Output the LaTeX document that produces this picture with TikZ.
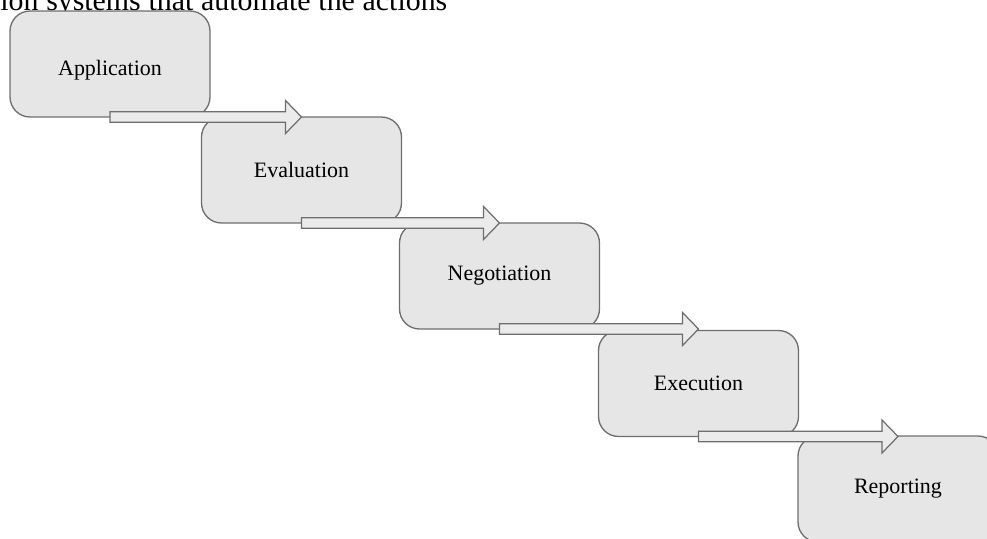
\documentclass[tikz,border=0pt]{standalone}
\usepackage{fontspec}
\setmainfont{Liberation Serif}
\usetikzlibrary{calc}

\definecolor{boxfill}{HTML}{E6E6E6}
\definecolor{boxline}{HTML}{6E6E6E}

\tikzset{
  stagebox/.style={draw=boxline, fill=boxfill, line width=0.75pt,
    rounded corners=0.4cm, minimum width=4cm, minimum height=2.12cm,
    inner sep=0pt, outer sep=0pt, font=\fontsize{12.5}{15}\selectfont},
  flowarrow/.style={draw=boxline, fill=boxfill!80!white, line width=0.7pt, line join=miter}
}

\begin{document}
\begin{tikzpicture}[x=0.02cm, y=-0.02cm]
            \useasboundingbox (0,0) rectangle (987,538);
            \clip (0,0) rectangle (987,538);
            % cut-off line of text above the diagram
            \node[anchor=base west, inner sep=0pt, font=\fontsize{17}{20}\selectfont] (caption) at (0,10)
              {\makebox[8.94cm][s]{ion systems that automate the actions}};
            % stages
            \node[stagebox, text height=0.54cm, text depth=0.08cm] (app) at (110,64) {Application};
            \node[stagebox] (eval) at (301.5,170) {Evaluation};
            \node[stagebox] (nego) at (499.5,276) {Negotiation};
            \node[stagebox] (exec) at (698.5,383.5) {Execution};
            \node[stagebox] (rep) at (898,489) {Reporting};
            % block arrows between the stages
            \foreach \a/\b in {app/eval, eval/nego, nego/exec, exec/rep}{
              \coordinate (tip) at (\a.south -| \b.north);
              \draw[flowarrow] ($(\a.south)+(0,-5.3)$) -- ($(tip)+(-16,-5.3)$)
                -- ($(tip)+(-16,-16.5)$) -- (tip) -- ($(tip)+(-16,16.5)$)
                -- ($(tip)+(-16,5.3)$) -- ($(\a.south)+(0,5.3)$) -- cycle;
            }
        \end{tikzpicture}
\end{document}
